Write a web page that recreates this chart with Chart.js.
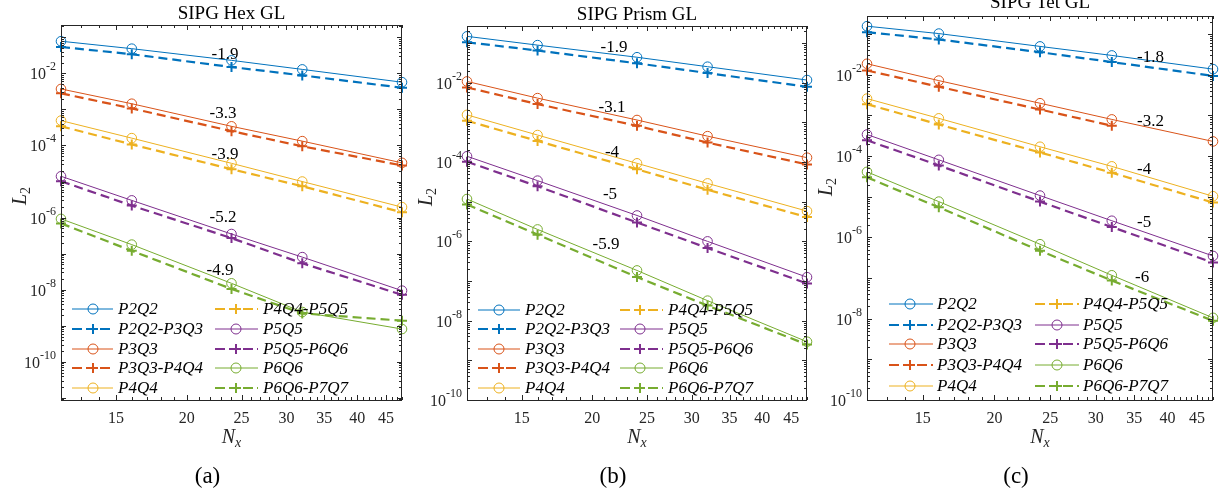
<!DOCTYPE html>
<html>
<head>
<meta charset="utf-8">
<script src="https://cdn.jsdelivr.net/npm/chart.js@4/dist/chart.umd.min.js"></script>
<style>
  html, body { margin: 0; padding: 0; background: #fff; }
  #wrap { position: relative; width: 1220px; height: 494px; overflow: hidden; }
  .panel { position: absolute; top: 0; }
</style>
</head>
<body>
<div id="wrap">
  <canvas class="panel" id="hex" width="410" height="494" style="left:0"></canvas>
  <canvas class="panel" id="prism" width="405" height="494" style="left:410px"></canvas>
  <canvas class="panel" id="tet" width="405" height="494" style="left:815px"></canvas>
</div>
<script>
// -------------------------
// Data
// -------------------------
const nx = [12, 16, 24, 32, 48];
const xTicks = [15, 20, 25, 30, 35, 40, 45];
const yTicks = [1e-2, 1e-4, 1e-6, 1e-8, 1e-10];
const labels = ['P2Q2', 'P2Q2-P3Q3', 'P3Q3', 'P3Q3-P4Q4', 'P4Q4',
                'P4Q4-P5Q5', 'P5Q5', 'P5Q5-P6Q6', 'P6Q6', 'P6Q6-P7Q7'];

// SIPG Hex GL
const hexP2Q2      = [0.078, 0.0485, 0.023, 0.0129, 0.0057];
const hexP2Q2_P3Q3 = [0.054, 0.034, 0.015, 0.0088, 0.0040];
const hexP3Q3      = [0.0037, 0.00144, 3.4e-4, 1.32e-4, 3.3e-5];
const hexP3Q3_P4Q4 = [0.0028, 0.00107, 2.5e-4, 9.5e-5, 2.8e-5];
const hexP4Q4      = [4.9e-4, 1.6e-4, 3.2e-5, 1.0e-5, 1.95e-6];
const hexP4Q4_P5Q5 = [3.4e-4, 1.07e-4, 2.2e-5, 7.4e-6, 1.4e-6];
const hexP5Q5      = [1.4e-5, 3.0e-6, 3.5e-7, 8e-8, 9.4e-9];
const hexP5Q5_P6Q6 = [1.02e-5, 2.15e-6, 2.7e-7, 5.4e-8, 7.2e-9];
const hexP6Q6      = [9.2e-7, 1.78e-7, 1.5e-8, 2.4e-9, 8.1e-10];
const hexP6Q6_P7Q7 = [6.9e-7, 1.2e-7, 1.05e-8, 2.2e-9, 1.38e-9];
const hexRates = ['-1.9', '-3.3', '-3.9', '-5.2', '-4.9'];

// SIPG Prism GL
const prismP2Q2      = [0.148, 0.089, 0.044, 0.0254, 0.0117];
const prismP2Q2_P3Q3 = [0.105, 0.065, 0.031, 0.0176, 0.0079];
const prismP3Q3      = [0.0108, 0.0041, 0.00115, 4.5e-4, 1.29e-4];
const prismP3Q3_P4Q4 = [0.0076, 0.0029, 8.2e-4, 3.1e-4, 8.7e-5];
const prismP4Q4      = [1.55e-3, 4.8e-4, 9.3e-5, 2.9e-5, 5.8e-6];
const prismP4Q4_P5Q5 = [1.1e-3, 3.4e-4, 6.6e-5, 2.0e-5, 4.1e-6];
const prismP5Q5      = [1.4e-4, 3.4e-5, 4.5e-6, 1.0e-6, 1.25e-7];
const prismP5Q5_P6Q6 = [1.02e-4, 2.45e-5, 3.0e-6, 6.8e-7, 8.7e-8];
const prismP6Q6      = [1.17e-5, 2.0e-6, 1.85e-7, 3.2e-8, 2.95e-9];
const prismP6Q6_P7Q7 = [8.5e-6, 1.48e-6, 1.26e-7, 2.4e-8, 2.5e-9];
const prismRates = ['-1.9', '-3.1', '-4', '-5', '-5.9'];

// SIPG Tet GL
const tetP2Q2      = [0.157, 0.1035, 0.050, 0.030, 0.0138];
const tetP2Q2_P3Q3 = [0.112, 0.074, 0.036, 0.0206, 0.0094];
const tetP3Q3      = [0.0187, 0.0072, 0.0020, 8.0e-4, 2.3e-4];
const tetP3Q3_P4Q4 = [0.0128, 0.0051, 0.0014, 5.6e-4, null];
const tetP4Q4      = [2.6e-3, 8.5e-4, 1.7e-4, 5.6e-5, 1.03e-5];
const tetP4Q4_P5Q5 = [1.9e-3, 6.0e-4, 1.23e-4, 3.9e-5, 7.2e-6];
const tetP5Q5      = [3.4e-4, 8.1e-5, 1.07e-5, 2.57e-6, 3.5e-7];
const tetP5Q5_P6Q6 = [2.45e-4, 5.9e-5, 7.6e-6, 1.8e-6, 2.4e-7];
const tetP6Q6      = [4.1e-5, 7.6e-6, 6.8e-7, 1.17e-7, 1.05e-8];
const tetP6Q6_P7Q7 = [3.0e-5, 5.5e-6, 4.7e-7, 8.7e-8, 8.9e-9];
const tetRates = ['-1.8', '-3.2', '-4', '-5', '-6'];

// MATLAB default colour order, one per polynomial order
const colors = ['#0072BD', '#D95319', '#EDB120', '#7E2F8E', '#77AC30'];

const SERIF = '"Liberation Serif", "Times New Roman", serif';

// -------------------------
// Decorations: box, ticks, labels, legend
// -------------------------
function decor(cfg) {
    return {
        id: 'decor',
        afterDraw(chart) {
            const ctx = chart.ctx;
            const xs = chart.scales.x, ys = chart.scales.y;
            const a = chart.chartArea;
            const cx = (a.left + a.right) / 2;
            ctx.save();

            // box
            ctx.strokeStyle = '#262626';
            ctx.lineWidth = 1;
            ctx.strokeRect(a.left + 0.5, a.top + 0.5, a.right - a.left - 1, a.bottom - a.top);

            // x ticks (major labelled, minor at every integer)
            ctx.beginPath();
            for (let v = 12; v <= 48; v++) {
                const px = Math.round(xs.getPixelForValue(v)) + 0.5;
                const len = xTicks.includes(v) ? 5 : 3;
                ctx.moveTo(px, a.bottom); ctx.lineTo(px, a.bottom - len);
                ctx.moveTo(px, a.top); ctx.lineTo(px, a.top + len);
            }
            // y ticks (major each decade, minor 2..9)
            for (let e = -12; e <= 0; e++) {
                for (let m = 1; m <= 9; m++) {
                    const v = m * Math.pow(10, e);
                    if (v < ys.min || v > ys.max) continue;
                    const py = Math.round(ys.getPixelForValue(v)) + 0.5;
                    const len = m === 1 ? 5 : 3;
                    ctx.moveTo(a.left, py); ctx.lineTo(a.left + len, py);
                    ctx.moveTo(a.right, py); ctx.lineTo(a.right - len, py);
                }
            }
            ctx.stroke();

            ctx.fillStyle = '#262626';
            // x tick labels
            ctx.font = '16px ' + SERIF;
            ctx.textAlign = 'center';
            ctx.textBaseline = 'alphabetic';
            xTicks.forEach(t => ctx.fillText(String(t), xs.getPixelForValue(t), a.bottom + 23));

            // y tick labels 10^e
            yTicks.forEach(t => {
                const py = ys.getPixelForValue(t);
                const ex = String(Math.round(Math.log10(t)));
                ctx.font = '12px ' + SERIF;
                const we = ctx.measureText(ex).width;
                const right = a.left - 5;
                ctx.textAlign = 'left';
                ctx.fillText(ex, right - we, py - 3);
                ctx.font = '16px ' + SERIF;
                ctx.textAlign = 'right';
                ctx.fillText('10', right - we, py + 6);
            });

            // x axis title N_x
            ctx.textAlign = 'left';
            ctx.font = 'italic 20px ' + SERIF;
            const wN = ctx.measureText('N').width;
            ctx.font = 'italic 14px ' + SERIF;
            const wx = ctx.measureText('x').width;
            const nx0 = cx - (wN + wx) / 2;
            ctx.font = 'italic 20px ' + SERIF;
            ctx.fillText('N', nx0, a.bottom + 43);
            ctx.font = 'italic 14px ' + SERIF;
            ctx.fillText('x', nx0 + wN, a.bottom + 47);

            // y axis title L_2
            ctx.save();
            ctx.translate(a.left - 42, a.top + 171);
            ctx.rotate(-Math.PI / 2);
            ctx.font = 'italic 20px ' + SERIF;
            const wL = ctx.measureText('L').width;
            ctx.fillText('L', -(wL + 7) / 2, 7);
            ctx.font = '14px ' + SERIF;
            ctx.fillText('2', -(wL + 7) / 2 + wL, 11);
            ctx.restore();

            // title
            ctx.font = '19px ' + SERIF;
            ctx.textAlign = 'center';
            ctx.fillStyle = '#000';
            ctx.fillText(cfg.title, cx, a.top - cfg.titleGap);

            // caption
            ctx.font = '23px ' + SERIF;
            ctx.textBaseline = 'middle';
            ctx.fillText(cfg.caption, cx - 24, 477);

            // rate annotations
            ctx.font = '17px ' + SERIF;
            ctx.textAlign = cfg.rateAlign;
            cfg.rates.forEach((r, i) => ctx.fillText(r, cfg.ratePos[i][0], cfg.ratePos[i][1]));

            // legend (two columns, no box)
            chart.data.datasets.forEach((ds, i) => {
                const col = i < 5 ? 0 : 1;
                const row = i % 5;
                const L = cfg.legend[col];
                const y = cfg.legendRows[row];
                const dashed = ds.label.includes('-');
                ctx.strokeStyle = ds.borderColor;
                ctx.lineWidth = dashed ? 2 : 1;
                ctx.setLineDash(dashed ? [10, 4] : []);
                ctx.beginPath();
                ctx.moveTo(L.x0, y); ctx.lineTo(L.x1, y);
                ctx.stroke();
                ctx.setLineDash([]);
                ctx.beginPath();
                if (dashed) {
                    ctx.moveTo(L.m - 5, y); ctx.lineTo(L.m + 5, y);
                    ctx.moveTo(L.m, y - 5); ctx.lineTo(L.m, y + 5);
                } else {
                    ctx.lineWidth = 1;
                    ctx.arc(L.m, y, 5, 0, Math.PI * 2);
                }
                ctx.stroke();
                // label: italic parts, upright hyphen
                ctx.fillStyle = '#000';
                ctx.textAlign = 'left';
                let tx = L.t;
                ds.label.split('-').forEach((part, k) => {
                    if (k > 0) {
                        ctx.font = '17px ' + SERIF;
                        ctx.fillText('-', tx, y + 1);
                        tx += ctx.measureText('-').width;
                    }
                    ctx.font = 'italic 17px ' + SERIF;
                    ctx.fillText(part, tx, y + 1);
                    tx += ctx.measureText(part).width;
                });
            });
            ctx.restore();
        }
    };
}

// -------------------------
// Charts
// -------------------------
function makeChart(id, series, yMin, yMax, padding, cfg) {
    const datasets = series.map((vals, i) => {
        const dashed = i % 2 === 1;
        const col = colors[Math.floor(i / 2)];
        return {
            label: labels[i],
            data: vals.map((v, k) => ({ x: nx[k], y: v })),
            borderColor: col,
            backgroundColor: 'rgba(0,0,0,0)',
            borderWidth: dashed ? 2.2 : 1,
            borderDash: dashed ? [9, 5] : [],
            pointStyle: dashed ? 'cross' : 'circle',
            pointRadius: dashed ? 5 : 4.8,
            pointBorderWidth: dashed ? 2 : 1,
            pointBackgroundColor: 'rgba(0,0,0,0)',
            pointBorderColor: col,
            tension: 0,
            clip: false
        };
    });
    return new Chart(document.getElementById(id), {
        type: 'line',
        data: { datasets },
        options: {
            responsive: false,
            animation: false,
            events: [],
            layout: { padding },
            plugins: { legend: { display: false }, tooltip: { enabled: false } },
            scales: {
                x: { type: 'logarithmic', min: 12, max: 48, display: false },
                y: { type: 'logarithmic', min: yMin, max: yMax, display: false }
            }
        },
        plugins: [decor(cfg)]
    });
}

makeChart('hex',
    [hexP2Q2, hexP2Q2_P3Q3, hexP3Q3, hexP3Q3_P4Q4, hexP4Q4,
     hexP4Q4_P5Q5, hexP5Q5, hexP5Q5_P6Q6, hexP6Q6, hexP6Q6_P7Q7],
    8.7e-12, 0.22,
    { left: 61, right: 8, top: 25, bottom: 94 },
    {
        title: 'SIPG Hex GL', caption: '(a)', titleGap: 6, rates: hexRates, rateAlign: 'center',
        ratePos: [[225, 55], [223, 114], [225, 155], [223, 218], [220, 271]],
        legend: [{ x0: 72, x1: 113, m: 93, t: 118 }, { x0: 215, x1: 258, m: 236, t: 263 }],
        legendRows: [309, 329, 349, 368, 388]
    });

makeChart('prism',
    [prismP2Q2, prismP2Q2_P3Q3, prismP3Q3, prismP3Q3_P4Q4, prismP4Q4,
     prismP4Q4_P5Q5, prismP5Q5, prismP5Q5_P6Q6, prismP6Q6, prismP6Q6_P7Q7],
    1e-10, 0.27,
    { left: 57, right: 8, top: 26, bottom: 94 },
    {
        title: 'SIPG Prism GL', caption: '(b)', titleGap: 6, rates: prismRates, rateAlign: 'center',
        ratePos: [[204, 48], [202, 108], [202, 153], [200, 195], [196, 245]],
        legend: [{ x0: 68, x1: 110, m: 89, t: 115 }, { x0: 210, x1: 253, m: 230, t: 258 }],
        legendRows: [310, 329, 349, 368, 388]
    });

makeChart('tet',
    [tetP2Q2, tetP2Q2_P3Q3, tetP3Q3, tetP3Q3_P4Q4, tetP4Q4,
     tetP4Q4_P5Q5, tetP5Q5, tetP5Q5_P6Q6, tetP6Q6, tetP6Q6_P7Q7],
    1e-10, 0.28,
    { left: 52, right: 2, top: 16, bottom: 94 },
    {
        title: 'SIPG Tet GL', caption: '(c)', titleGap: 8, rates: tetRates, rateAlign: 'left',
        ratePos: [[322, 58], [322, 122], [322, 170], [322, 223], [320, 278]],
        legend: [{ x0: 74, x1: 118, m: 95, t: 122 }, { x0: 220, x1: 264, m: 242, t: 268 }],
        legendRows: [304, 325, 344, 365, 386]
    });
</script>
</body>
</html>
